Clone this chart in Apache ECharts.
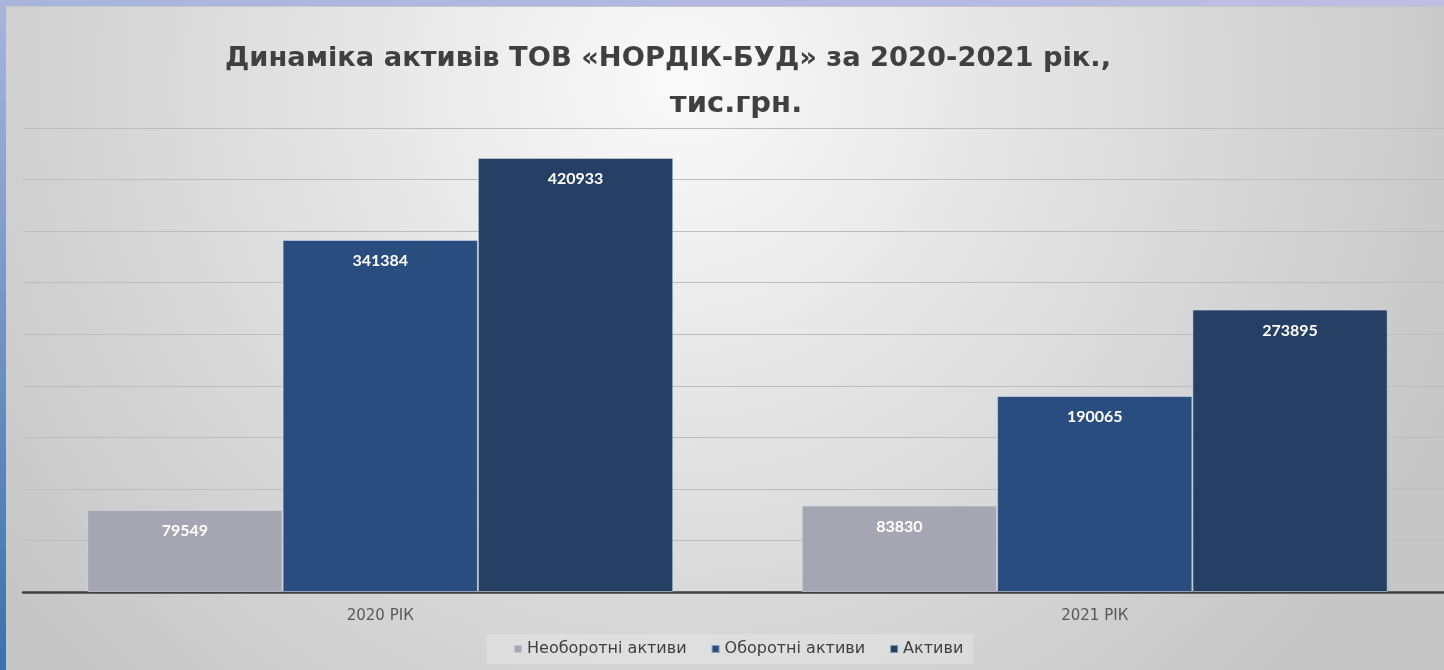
<!DOCTYPE html>
<html>
<head>
<meta charset="utf-8">
<script src="https://cdn.jsdelivr.net/npm/echarts@6/dist/echarts.min.js"></script>
<style>html,body{margin:0;padding:0;}#c{width:1444px;height:670px;}</style>
</head>
<body>
<div id="c"></div>
<script>
const categories = ['2020 РІК', '2021 РІК'];
const nonCurrent = [79549, 83830];
const current = [341384, 190065];
const totalAssets = [420933, 273895];
const seriesNames = ['Необоротні активи', 'Оборотні активи', 'Активи'];
const titleLine1 = 'Динаміка активів ТОВ «НОРДІК-БУД» за 2020-2021 рік.,';
const titleLine2 = 'тис.грн.';

const chart = echarts.init(document.getElementById('c'), null, {renderer: 'canvas'});
const labelStyle = {
  show: true, position: 'insideTop', distance: 13,
  color: '#ffffff', fontWeight: 'bold', fontSize: 16, fontFamily: 'Lato'
};
function bar(name, data, color) {
  return {
    name: name, type: 'bar', data: data,
    barGap: '0%', barCategoryGap: '18%',
    itemStyle: {color: color, borderColor: 'rgba(215,222,235,0.55)', borderWidth: 1},
    label: labelStyle
  };
}
chart.setOption({
  backgroundColor: {
    type: 'radial', x: 0.47, y: 0.12, r: 1.25,
    colorStops: [{offset: 0, color: '#fafafa'}, {offset: 0.5, color: '#dfdfdf'}, {offset: 1, color: '#c6c6c6'}]
  },
  graphic: [
    {type: 'rect', z: -1, shape: {x: 0, y: 0, width: 1444, height: 6},
     style: {fill: new echarts.graphic.LinearGradient(0, 0, 1, 0, [{offset: 0, color: '#a8b4da'}, {offset: 1, color: '#bfbfe4'}])}},
    {type: 'rect', z: -1, shape: {x: 0, y: 6, width: 1444, height: 1}, style: {fill: '#c6c6c6'}},
    {type: 'rect', z: -1, shape: {x: 0, y: 0, width: 6, height: 670},
     style: {fill: new echarts.graphic.LinearGradient(0, 0, 0, 1, [{offset: 0, color: '#a7b5dc'}, {offset: 1, color: '#3a72aa'}])}},
    {type: 'text', style: {x: 668, y: 59, text: titleLine1, align: 'center', verticalAlign: 'middle', fill: '#404040', font: 'bold 27.3px "DejaVu Sans"'}},
    {type: 'text', style: {x: 736, y: 104, text: titleLine2, align: 'center', verticalAlign: 'middle', fill: '#404040', font: 'bold 29px "DejaVu Sans"'}}
  ],
  grid: {left: 23, width: 1429, top: 128, bottom: 78, containLabel: false, outerBoundsMode: 'none'},
  legend: {
    data: seriesNames, left: 487, top: 634,
    backgroundColor: 'rgba(255,255,255,0.22)',
    padding: [7, 10, 7, 26],
    itemWidth: 8, itemHeight: 8, itemGap: 24, icon: 'rect',
    textStyle: {color: '#404040', fontSize: 16, fontFamily: 'DejaVu Sans'}
  },
  xAxis: {
    type: 'category', data: categories,
    axisLine: {lineStyle: {color: '#404040', width: 2.5}},
    axisTick: {show: false},
    axisLabel: {color: '#595959', fontSize: 15, fontFamily: 'DejaVu Sans', margin: 17}
  },
  yAxis: {
    type: 'value', min: 0, max: 450000, interval: 50000,
    axisLabel: {show: false}, axisLine: {show: false}, axisTick: {show: false},
    splitLine: {lineStyle: {color: '#bdbdbd', width: 1}}
  },
  series: [
    bar(seriesNames[0], nonCurrent, '#a5a6b1'),
    bar(seriesNames[1], current, '#2a4d7f'),
    bar(seriesNames[2], totalAssets, '#263f64')
  ]
});
</script>
</body>
</html>
